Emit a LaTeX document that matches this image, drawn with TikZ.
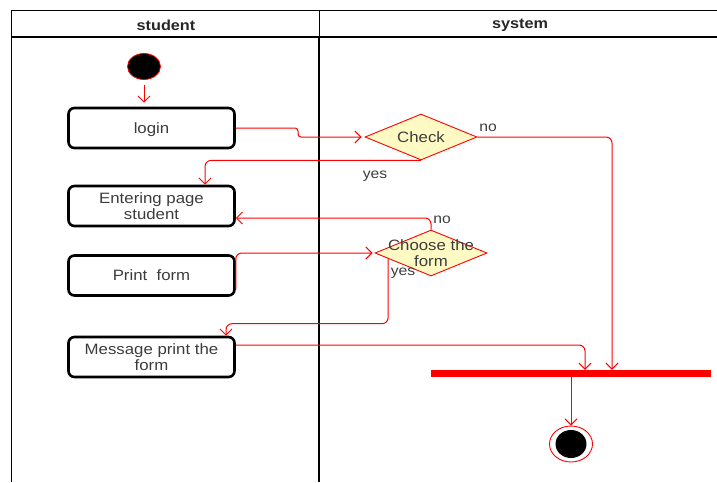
\documentclass[tikz,border=0pt]{standalone}
\usepackage{fontspec}
\setmainfont[FakeStretch=1.12]{Liberation Sans}
\usetikzlibrary{arrows.meta,shapes.geometric,calc}
\definecolor{txt}{RGB}{60,60,60}
\definecolor{decfill}{RGB}{255,250,195}
\begin{document}
\begin{tikzpicture}[x=1pt,y=-1pt,
  act/.style={draw=black, line width=2.6pt, rounded corners=6pt, minimum width=166pt, minimum height=40pt, align=center, text=txt, font=\fontsize{15}{16}\selectfont, inner sep=2pt},
  dec/.style={diamond, draw=red, fill=decfill, minimum width=112pt, minimum height=46pt, inner sep=0pt, line width=0.9pt},
  dectext/.style={align=center, text=txt, font=\fontsize{15}{16}\selectfont, inner sep=0pt},
  flow/.style={draw=red, line width=1pt, rounded corners=6pt, -{Straight Barb[length=6pt,width=12pt,line width=1pt]}},
  guard/.style={text=txt, font=\fontsize{14}{15}\selectfont, inner sep=0pt},
  hdr/.style={font=\bfseries\fontsize{14.5}{15}\selectfont, text=black!85}]
\useasboundingbox (0,0) rectangle (717,482);
% swimlane frame
\draw[line width=0.9pt] (11,482) -- (11,10) -- (717,10);
\draw[line width=1.3pt] (11,37) -- (717,37);
\draw[line width=0.9pt] (319,10) -- (319,37);
\draw[line width=2pt] (319,37) -- (319,482);
\node[hdr] (hstudent) at (166,25) {student};
\node[hdr] (hsystem) at (520,25) {system};
% nodes
\node[ellipse, fill=black, draw=red, line width=0.8pt, minimum width=33pt, minimum height=26pt, inner sep=0pt] (start) at (144,66.5) {};
\node[act] (login) at (151.5,128) {\rule{0pt}{15pt}login};
\node[act] (entering) at (151.5,206) {Entering page\\student};
\node[act] (print) at (151.5,275.5) {Print\ \ form};
\node[act] (message) at (151.5,357) {Message print the\\form};
\node[dec] (check) at (421,137) {};
\node[dectext] (checktext) at (check) {Check};
\node[dec] (choose) at (431,253) {};
\node[dectext] (choosetext) at (choose) {Choose the\\form};
\node[fill=red, minimum width=280pt, minimum height=7pt, inner sep=0pt] (bar) at (571,373.5) {};
\node[ellipse, draw=red, fill=white, line width=0.9pt, minimum width=43pt, minimum height=36pt, inner sep=0pt] (end) at (571,444) {};
\node[ellipse, fill=black, minimum width=31pt, minimum height=28pt, inner sep=0pt] (endin) at (end) {};
\coordinate (cy) at ($(choose.west)!0.24!(choose.south)$);
% connectors
\draw[flow, shorten <=5pt, shorten >=4pt] (start) -- (start |- login.north);
\draw[flow, rounded corners=3pt] (login.east) -- (298,128) -- (298,137) -- ([xshift=-3pt]check.west);
\draw[flow] (check.south) -| ([xshift=53.5pt]entering.north);
\draw[flow] (check.east) -| ([xshift=41pt]bar.north);
\draw[flow] (choose.north) |- ([yshift=-12pt]entering.east);
\draw[flow] ([yshift=-14pt]print.east) |- ([xshift=-2pt]choose.west);
\draw[flow] (cy) |- ([xshift=74.5pt,yshift=12pt]message.north) -- ([xshift=74.5pt]message.north);
\draw[flow] ([yshift=12pt]message.east) -| ([xshift=14pt]bar.north);
\draw[flow] (bar.south) -- (end.north);
% guards
\node[guard] (gno1) at (488,128) {no};
\node[guard] (gyes1) at (375,176) {yes};
\node[guard] (gno2) at (442,220) {no};
\node[guard] (gyes2) at (403,273) {yes};
\end{tikzpicture}
\end{document}
